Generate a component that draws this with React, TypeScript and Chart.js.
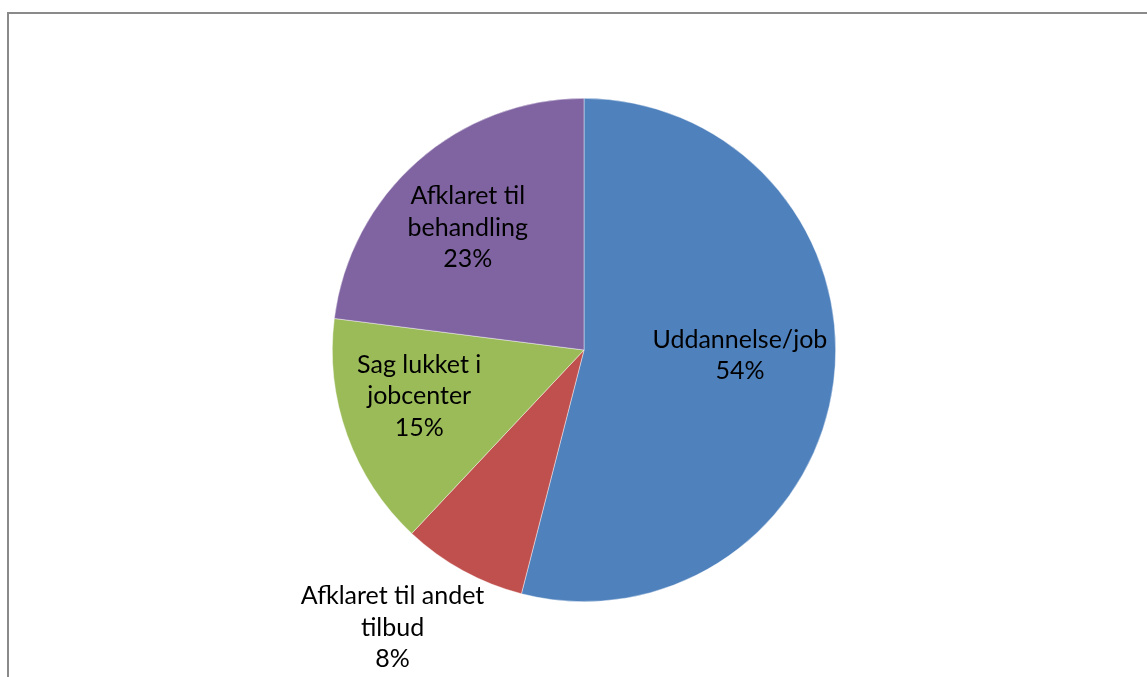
import React, { useEffect, useRef } from "react";
import { Chart, registerables } from "chart.js";

Chart.register(...registerables);

const categories = ["Uddannelse/job", "Afklaret til andet tilbud", "Sag lukket i jobcenter", "Afklaret til behandling"];
const labelLines = [["Uddannelse/job"], ["Afklaret til andet", "tilbud"], ["Sag lukket i", "jobcenter"], ["Afklaret til", "behandling"]];
const values = [54, 8, 15, 23];
const colors = ["#4F81BD", "#C0504D", "#9BBB59", "#8064A2"];

// label placement: radial fraction and angular offset (deg) per slice
const labelRadius = [0.62, 1.34, 0.68, 0.67];
const labelAngleOffset = [-5.2, 5.8, 4.2, -2.2];

const FONT = "Lato, 'Open Sans', sans-serif";
const FONT_SIZE = 25;
const LINE_H = 31.5;

const labelPlugin = {
  id: "pieLabels",
  afterDatasetsDraw(chart: any) {
    const ctx = chart.ctx;
    const meta = chart.getDatasetMeta(0);
    const total = values.reduce((a, b) => a + b, 0);
    ctx.save();
    ctx.font = `${FONT_SIZE}px ${FONT}`;
    ctx.fillStyle = "#000";
    ctx.textAlign = "center";
    ctx.textBaseline = "middle";
    meta.data.forEach((arc: any, i: number) => {
      const p = arc.getProps(["x", "y", "startAngle", "endAngle", "outerRadius"], true);
      const mid = (p.startAngle + p.endAngle) / 2 + (labelAngleOffset[i] * Math.PI) / 180;
      const r = p.outerRadius * labelRadius[i];
      const cx = p.x + Math.cos(mid) * r;
      const cy = p.y + Math.sin(mid) * r;
      const lines = [...labelLines[i], Math.round((values[i] / total) * 100) + "%"];
      const startY = cy - ((lines.length - 1) * LINE_H) / 2;
      lines.forEach((t, k) => ctx.fillText(t, cx, startY + k * LINE_H));
    });
    ctx.restore();
  },
};

export default function App() {
  const ref = useRef<HTMLCanvasElement>(null);
  useEffect(() => {
    if (!ref.current) return;
    const chart = new Chart(ref.current, {
      type: "pie",
      data: {
        labels: categories,
        datasets: [
          {
            data: values,
            backgroundColor: colors,
            borderColor: "rgba(255,255,255,0.6)",
            borderWidth: 0.7,
          },
        ],
      },
      options: {
        responsive: false,
        animation: false,
        layout: { padding: { top: 98, bottom: 75, left: 332, right: 311 } },
        plugins: { legend: { display: false }, tooltip: { enabled: false } },
      },
      plugins: [labelPlugin],
    });
    return () => chart.destroy();
  }, []);
  return (
    <div style={{ position: "fixed", left: 0, top: 0, width: 1147, height: 677, background: "#fff", overflow: "hidden" }}>
      <div
        style={{
          position: "absolute",
          left: 7,
          top: 12,
          width: 1300,
          height: 800,
          borderTop: "2px solid #8a8a8a",
          borderLeft: "2px solid #8a8a8a",
        }}
      />
      <canvas ref={ref} width={1147} height={677} style={{ position: "absolute", left: 0, top: 0 }} />
    </div>
  );
}
